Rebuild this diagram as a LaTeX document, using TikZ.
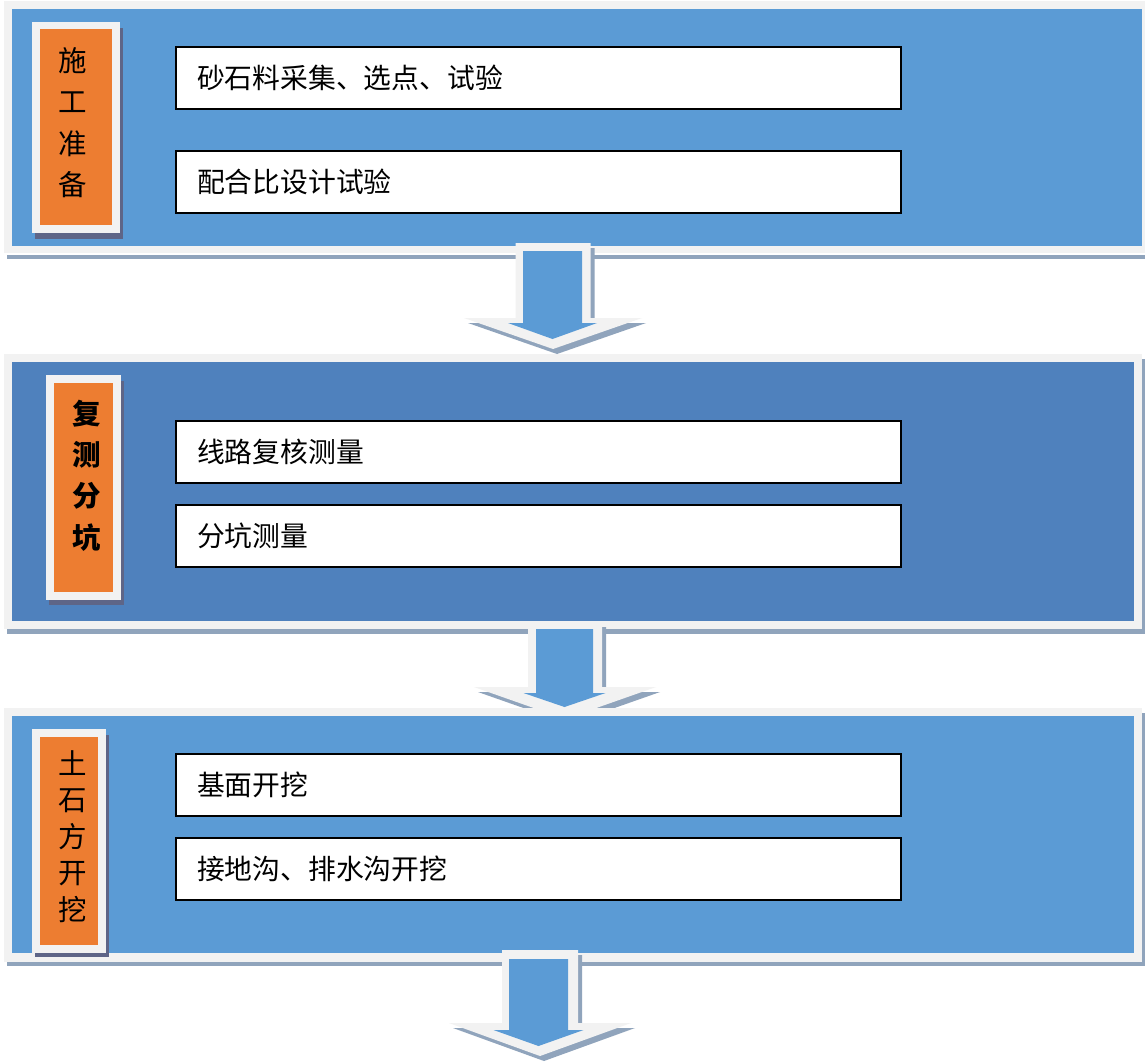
\documentclass[tikz,border=0pt]{standalone}
\usepackage{fontspec}
\newfontfamily\cjk{Noto Sans CJK SC}
\definecolor{pblue}{HTML}{5B9BD5}
\definecolor{pdark}{HTML}{4F81BD}
\definecolor{porange}{HTML}{ED7D31}
\definecolor{pgray}{HTML}{F2F2F2}
\definecolor{pshadow}{HTML}{90A4BC}
\definecolor{lshadow}{HTML}{5E6587}
% block arrow: cx, ytop, yhead, ytip, shaft half width, head half width, style
\newcommand{\blockarrow}[7]{%
  \fill[#7] ({#1-#5},#2) -- ({#1+#5},#2) -- ({#1+#5},#3) -- ({#1+#6},#3)
    -- (#1,#4) -- ({#1-#6},#3) -- ({#1-#5},#3) -- cycle;}
\begin{document}
\begin{tikzpicture}[x=1pt,y=-1pt,
  box/.style={rectangle, inner sep=0pt, anchor=north west},
  tbox/.style={rectangle, draw=black, line width=2pt, fill=white,
    minimum width=725pt, minimum height=62pt, text width=683pt,
    inner xsep=21pt, inner ysep=0pt, align=left,
    font=\cjk\fontsize{27.8}{30}\selectfont},
  vlabel/.style={align=center, inner sep=0pt, text=black},
]
\useasboundingbox (0,0) rectangle (1145,1061);
\fill[white] (0,0) rectangle (1145,1061);

% ---------- panel 1 ----------
\fill[pshadow] (7,255) rectangle (1146,259);
\node[box, fill=pgray, minimum width=1142pt, minimum height=252pt] (p1o) at (4,1) {};
\node[box, fill=pblue, minimum width=1130pt, minimum height=237pt] (p1) at (12,9) {};
\fill[lshadow] (35,28) rectangle (123,239);
\node[box, fill=pgray, minimum width=88pt, minimum height=211pt] (l1o) at (32,22) {};
\node[box, fill=porange, minimum width=72pt, minimum height=196pt] (l1) at (40,29) {};
\node[vlabel, font=\cjk\fontsize{28.5}{41.5}\selectfont] (l1t) at (73,122.5) {施\\工\\准\\备};
\node[tbox] (b11) at (538.5,77.5) {砂石料采集、选点、试验};
\node[tbox] (b12) at (538.5,181.5) {配合比设计试验};

% ---------- panel 2 ----------
\fill[pshadow] (7,359) rectangle (1145,634);
\node[box, fill=pgray, minimum width=1138pt, minimum height=275pt] (p2o) at (4,354) {};
\node[box, fill=pdark, minimum width=1122pt, minimum height=259pt] (p2) at (12,362) {};
\fill[lshadow] (49,381) rectangle (124,605);
\node[box, fill=pgray, minimum width=75pt, minimum height=225pt] (l2o) at (46,375) {};
\node[box, fill=porange, minimum width=59pt, minimum height=209pt] (l2) at (54,383) {};
\node[vlabel, font=\cjk\bfseries\fontsize{28.5}{41.3}\selectfont] (l2t) at (87,475.5) {复\\测\\分\\坑};
\node[tbox] (b21) at (538.5,452) {线路复核测量};
\node[tbox] (b22) at (538.5,535.5) {分坑测量};

% ---------- arrow 1 (panel 1 -> panel 2) ----------
\blockarrow{557}{248}{323}{354}{37.5}{89}{pshadow}
\blockarrow{553}{243}{318}{349}{37.5}{89}{pgray}
\blockarrow{552.5}{251}{323}{339}{29.5}{44.5}{pblue}

% ---------- arrow 2 (panel 2 -> panel 3) ----------
\blockarrow{569}{627}{692}{724}{37}{91}{pshadow}
\blockarrow{565}{622}{687}{719}{37}{91}{pgray}
\blockarrow{564.5}{629}{693}{707}{28.5}{41}{pblue}

% ---------- panel 3 ----------
\fill[pshadow] (7,713) rectangle (1145,966);
\node[box, fill=pgray, minimum width=1138pt, minimum height=254pt] (p3o) at (4,708) {};
\node[box, fill=pblue, minimum width=1122pt, minimum height=237pt] (p3) at (12,716) {};
\fill[lshadow] (35,735) rectangle (109,957);
\node[box, fill=pgray, minimum width=74pt, minimum height=224pt] (l3o) at (32,729) {};
\node[box, fill=porange, minimum width=58pt, minimum height=208pt] (l3) at (40,737) {};
\node[vlabel, font=\cjk\fontsize{28.5}{36.5}\selectfont] (l3t) at (73,836.5) {土\\石\\方\\开\\挖};
\node[tbox] (b31) at (538.5,785) {基面开挖};
\node[tbox] (b32) at (538.5,869) {接地沟、排水沟开挖};

% ---------- arrow 3 (below panel 3) ----------
\blockarrow{544}{955}{1028}{1061}{38}{91}{pshadow}
\blockarrow{540}{950}{1023}{1056}{38}{91}{pgray}
\blockarrow{538.5}{959}{1030}{1046}{29.5}{45}{pblue}
\end{tikzpicture}
\end{document}
